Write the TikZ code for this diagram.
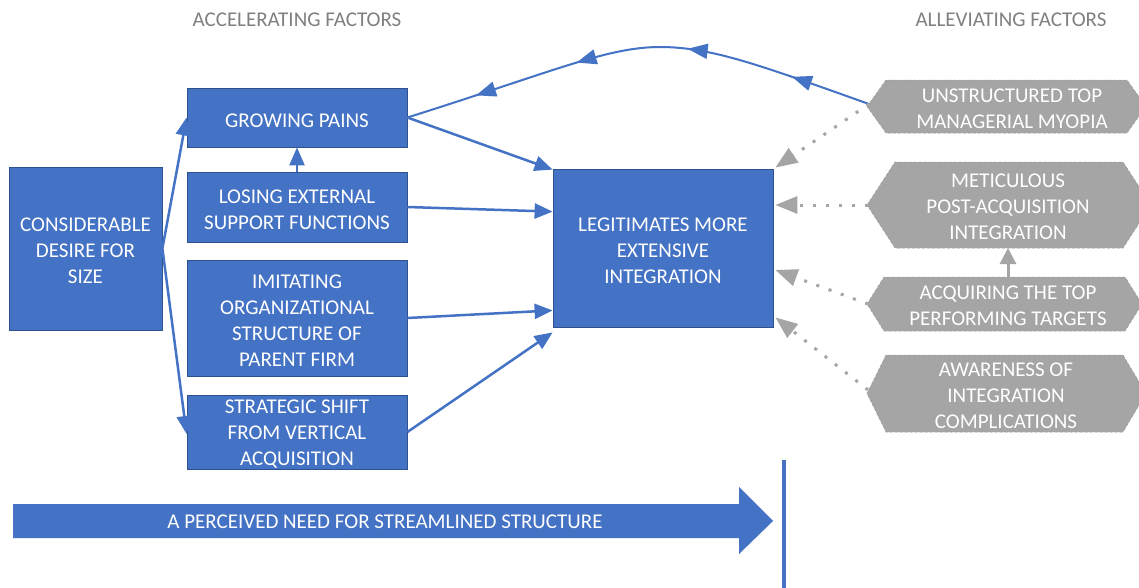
\documentclass[tikz,border=0pt]{standalone}
\usepackage{fontspec}
\setmainfont{Carlito}
\usetikzlibrary{arrows.meta,decorations.markings,calc}
\definecolor{boxblue}{RGB}{68,114,196}
\definecolor{boxedge}{RGB}{47,82,143}
\definecolor{hexgray}{RGB}{165,165,165}
\definecolor{hexedge}{RGB}{155,155,155}
\definecolor{headgray}{RGB}{128,128,128}

\begin{document}
\begin{tikzpicture}[x=1pt,y=-1pt,
  txt/.style={font=\fontsize{21pt}{26pt}\selectfont, align=center, inner sep=0pt},
  bluebox/.style={rectangle, fill=boxblue, draw=boxedge, line width=0.8pt},
  boxtext/.style={txt, text=white},
  hexfill/.style={fill=hexgray, draw=hexedge, line width=0.5pt, densely dashed},
  header/.style={txt, text=headgray},
  flow/.style={draw=boxblue, line width=2.5pt, -{Triangle[length=18pt,width=15pt]}},
  relief/.style={draw=hexgray, line width=3pt, dash pattern=on 3pt off 10pt,
                 -{Triangle[length=22pt,width=17pt]}},
  feedback/.style={draw=boxblue, line width=2pt,
    postaction={decorate},
    decoration={markings,
      mark=at position 0.17 with {\arrow{Triangle[length=20pt,width=15pt]}},
      mark=at position 0.395 with {\arrow{Triangle[length=20pt,width=15pt]}},
      mark=at position 0.63 with {\arrow{Triangle[length=20pt,width=15pt]}},
      mark=at position 0.85 with {\arrow{Triangle[length=20pt,width=15pt]}}}},
]
\fill[white] (0,0) rectangle (1139,587);
\useasboundingbox (0,0) rectangle (1139,587);
\clip (0,0) rectangle (1139,587);

% column headings
\node[header] (acc) at (297,19.5) {ACCELERATING FACTORS};
\node[header] (alle) at (1011,19.5) {ALLEVIATING FACTORS};

% accelerating factors: boxes
\node[bluebox, minimum width=153pt, minimum height=163pt] (desire) at (85.5,248.5) {};
\node[bluebox, minimum width=220pt, minimum height=59pt] (growing) at (297,117.5) {};
\node[bluebox, minimum width=220pt, minimum height=70pt] (losing) at (297,207) {};
\node[bluebox, minimum width=220pt, minimum height=116pt] (imitating) at (297,318) {};
\node[bluebox, minimum width=220pt, minimum height=74pt] (strategic) at (297,432) {};
\node[bluebox, minimum width=220pt, minimum height=158pt] (legit) at (663,248) {};

% accelerating factors: captions
\node[boxtext] (desireT) at ([yshift=-2.5pt]desire.center) {CONSIDERABLE\\DESIRE FOR\\SIZE};
\node[boxtext] (growingT) at ([yshift=-2.8pt]growing.center) {GROWING PAINS};
\node[boxtext] (losingT) at ([yshift=-2.5pt]losing.center) {LOSING EXTERNAL\\SUPPORT FUNCTIONS};
\node[boxtext] (imitatingT) at ([yshift=-2.5pt]imitating.center)
  {IMITATING\\ORGANIZATIONAL\\STRUCTURE OF\\PARENT FIRM};
\node[boxtext] (strategicT) at ([yshift=-2.5pt]strategic.center)
  {STRATEGIC SHIFT\\FROM VERTICAL\\ACQUISITION};
\node[boxtext] (legitT) at ([yshift=-2.5pt]legit.center)
  {LEGITIMATES MORE\\EXTENSIVE\\INTEGRATION};

% alleviating factors (hexagonal tags)
\path[hexfill] (867,106.5) -- (886,80) -- (1127,80) -- (1146,106.5) -- (1127,133) -- (886,133) -- cycle;
\path[hexfill] (867,205) -- (895,162) -- (1123,162) -- (1151,205) -- (1123,248) -- (895,248) -- cycle;
\path[hexfill] (867,304) -- (884,277) -- (1125,277) -- (1142,304) -- (1125,331) -- (884,331) -- cycle;
\path[hexfill] (867,393.5) -- (886,355) -- (1123,355) -- (1146,393.5) -- (1123,432) -- (886,432) -- cycle;
\coordinate (h1tip) at (869,104);
\coordinate (h2tip) at (868,205);
\coordinate (h3tip) at (868,304);
\coordinate (h4tip) at (868,390);
\node[boxtext] (h1) at (1012,108.5) {UNSTRUCTURED TOP\\MANAGERIAL MYOPIA};
\node[boxtext] (h2) at (1008,207) {METICULOUS\\POST-ACQUISITION\\INTEGRATION};
\node[boxtext] (h3) at (1008,306) {ACQUIRING THE TOP\\PERFORMING TARGETS};
\node[boxtext] (h4) at (1006,395.5) {AWARENESS OF\\INTEGRATION\\COMPLICATIONS};
\coordinate (h2bot) at (1008,248);
\coordinate (h3top) at (1008,277);

% desire feeds the first and last factor
\draw[flow] (desire.east) -- (growing.west);
\draw[flow] (desire.east) -- ([yshift=-2pt]strategic.west);
\draw[flow] (losing.north) -- (growing.south);

% factors feed integration
\draw[flow] (growing.east) -- ([yshift=-1pt]legit.north west);
\draw[flow] (losing.east) -- ([yshift=-43pt]legit.north west);
\draw[flow] (imitating.east) -- ([yshift=17pt]legit.south west);
\draw[flow] (strategic.east) -- ([yshift=-5pt]legit.south west);

% feedback loop from myopia back to growing pains
\draw[feedback] (h1tip) .. controls (762,66) and (712,47) .. (660,47)
                        .. controls (607,47) and (552,72) .. (growing.east);

% alleviating factors
\draw[relief] (h1tip) -- ([xshift=2pt,yshift=1pt]legit.north east);
\draw[relief] (h2tip) -- ([yshift=43pt,xshift=2pt]legit.east);
\draw[relief] (h3tip) -- ([yshift=-22pt,xshift=2pt]legit.east);
\draw[relief] (h4tip) -- ([yshift=10pt,xshift=2pt]legit.south east);
\draw[draw=hexgray, line width=3pt, -{Triangle[length=16pt,width=16pt]}] (h3top) -- (h2bot);

% streamlining arrow and boundary
\fill[boxblue] (13,504) -- (739,504) -- (739,487) -- (773,521) -- (739,554) -- (739,538) -- (13,538) -- cycle;
\node[boxtext] (need) at (385,522) {A PERCEIVED NEED FOR STREAMLINED STRUCTURE};
\coordinate (bartop) at (784,460);
\coordinate (barbot) at (784,590);
\draw[boxblue, line width=4pt] (bartop) -- (barbot);
\end{tikzpicture}
\end{document}
